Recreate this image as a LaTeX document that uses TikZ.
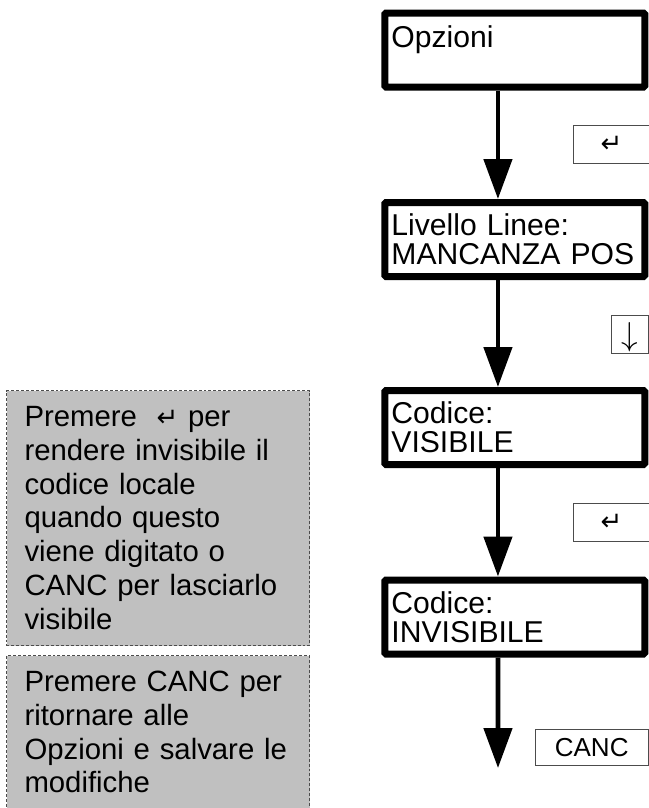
\documentclass[tikz,border=0pt]{standalone}
\usepackage{fontspec}
\setmainfont{Liberation Sans}
\newfontfamily\symfont{DejaVu Sans}
\usetikzlibrary{arrows.meta}
\definecolor{notegray}{HTML}{C0C0C0}
\newcommand{\enterkey}{{\symfont\fontsize{19.5pt}{19.5pt}\selectfont ↵}}

\begin{document}
\begin{tikzpicture}[x=0.75pt,y=-0.75pt,
screen/.style={draw,line width=5.25pt,rounded corners=1pt,minimum width=195pt,minimum height=55.5pt,inner xsep=5pt,inner ysep=0pt,text width=185pt,align=left,font=\fontsize{22.6pt}{22pt}\selectfont},
key/.style={draw=black!70,line width=0.75pt,inner sep=0pt,minimum height=28.5pt,font=\fontsize{19.5pt}{19.5pt}\selectfont},
note/.style={draw=black!70,fill=notegray,dash pattern=on 2.2pt off 1.5pt,line width=0.75pt,anchor=north west,inner xsep=13.5pt,inner ysep=0pt,text width=200.25pt,align=left,font=\fontsize{22pt}{25.3pt}\selectfont},
flow/.style={line width=3.5pt,-{Triangle[length=30pt,width=21pt]}}]
\useasboundingbox (0,0) rectangle (649,808);
\node[screen] (opz) at (514.75,50) {Opzioni\\[-2pt]\mbox{}};
\node[screen] (liv) at (514.75,239.5) {Livello Linee:\\\mbox{MANCANZA POS}};
\node[screen] (codvis) at (514.75,427.5) {Codice:\\VISIBILE};
\node[screen] (codinv) at (514.75,617) {Codice:\\INVISIBILE};
\coordinate (exit) at (498,768);
\draw[flow] ([xshift=-12.6pt]opz.south) -- ([xshift=-12.6pt]liv.north);
\draw[flow] ([xshift=-12.6pt]liv.south) -- ([xshift=-12.6pt]codvis.north);
\draw[flow] ([xshift=-12.6pt]codvis.south) -- ([xshift=-12.6pt]codinv.north);
\draw[flow] ([xshift=-12.6pt]codinv.south) -- (exit);
\node[key,minimum width=57.75pt] (enter1) at (611.5,144) {\symfont ↵};
\node[key,minimum width=27.75pt,text depth=0pt,font=\fontsize{26pt}{26pt}\selectfont] (down) at (629.5,334) {$\downarrow$};
\node[key,minimum width=57.75pt] (enter2) at (611.5,522.5) {\symfont ↵};
\node[key,minimum width=84.75pt,minimum height=27pt] (canc) at (591.7,747.4) {CANC};
\node[note,minimum height=191.25pt] (notevis) at (6,390) {Premere\ \ \enterkey\ per\\rendere invisibile il\\codice locale\\quando questo\\viene digitato o\\CANC per lasciarlo\\visibile};
\node[note,minimum height=115pt] (notecanc) at (6,655) {Premere CANC per\\ritornare alle\\Opzioni e salvare le\\modifiche};
\end{tikzpicture}
\end{document}
